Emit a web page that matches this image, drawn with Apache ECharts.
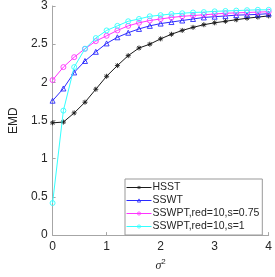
<!DOCTYPE html>
<html><head><meta charset="utf-8">
<script src="https://cdn.jsdelivr.net/npm/echarts@6/dist/echarts.min.js"></script>
<style>html,body{margin:0;padding:0;background:#fff}#c{width:275px;height:277px}</style>
</head><body><div id="c"></div>
<script>
const xValues = [0,0.2,0.4,0.6,0.8,1.0,1.2,1.4,1.6,1.8,2.0,2.2,2.4,2.6,2.8,3.0,3.2,3.4,3.6,3.8,4.0];
const seriesNames = ['HSST','SSWT','SSWPT,red=10,s=0.75','SSWPT,red=10,s=1'];
const hsst  = [1.47,1.48,1.60,1.74,1.91,2.08,2.22,2.35,2.45,2.50,2.57,2.63,2.68,2.72,2.755,2.78,2.80,2.82,2.84,2.855,2.87];
const sswt  = [1.76,1.92,2.13,2.28,2.40,2.51,2.59,2.65,2.70,2.74,2.77,2.79,2.81,2.83,2.85,2.86,2.87,2.88,2.885,2.89,2.90];
const sswpt075 = [2.03,2.20,2.33,2.44,2.54,2.61,2.68,2.74,2.78,2.81,2.83,2.85,2.865,2.875,2.885,2.895,2.905,2.91,2.915,2.92,2.925];
const sswpt1 = [0.42,1.63,2.20,2.44,2.58,2.68,2.74,2.80,2.83,2.865,2.88,2.895,2.905,2.915,2.92,2.93,2.935,2.94,2.945,2.95,2.95];
const yTicks = [0,0.5,1,1.5,2,2.5,3];
const xTicks = [0,1,2,3,4];

const colors = ['#1a1a1a','#2a2aff','#ff33ff','#33ffff'];
const star = 'path://M0,-5L0,5M-5,0L5,0M-3.6,-3.6L3.6,3.6M-3.6,3.6L3.6,-3.6';
const symbols = [star,'triangle','circle','circle'];
const sizes = [5,5,5,5];
const datas = [hsst, sswt, sswpt075, sswpt1];

const chart = echarts.init(document.getElementById('c'));
chart.setOption({
  animation:false,
  grid:{left:37,right:3,top:6,bottom:36},
  textStyle:{fontFamily:'Liberation Sans, Arial, sans-serif'},
  xAxis:{type:'value',min:0,max:4,interval:1,
    axisLine:{lineStyle:{color:'#a6a6a6',width:1}},
    axisTick:{inside:true,length:3,lineStyle:{color:'#a6a6a6'}},
    axisLabel:{color:'#262626',fontSize:12,margin:6,formatter:v=>String(v)},
    splitLine:{show:false},
    name:'{s|σ}{sup|2}',nameLocation:'middle',nameGap:20,
    nameTextStyle:{rich:{s:{fontSize:12,fontStyle:'italic',color:'#262626',fontFamily:'Liberation Serif, serif'},sup:{fontSize:8,color:'#262626',verticalAlign:'top',padding:[0,0,8,0]}}}
  },
  yAxis:{type:'value',min:0,max:3,interval:0.5,
    axisLine:{show:true,lineStyle:{color:'#a6a6a6',width:1}},
    axisTick:{show:true,inside:true,length:3,lineStyle:{color:'#a6a6a6'}},
    axisLabel:{color:'#262626',fontSize:12,margin:5,formatter:v=>String(v)},
    splitLine:{show:false},
    name:'EMD',nameLocation:'middle',nameGap:26,nameRotate:90,
    nameTextStyle:{color:'#262626',fontSize:12}
  },
  legend:{
    orient:'vertical',left:125,top:179,
    width:138,
    backgroundColor:'#fff',borderColor:'#999',borderWidth:1,
    padding:[3,3,3,1],itemGap:2,itemWidth:25,itemHeight:4,
    lineStyle:{width:1},
    itemStyle:{borderWidth:0.8},
    textStyle:{fontSize:10.5,color:'#262626',padding:[0,0,0,-4]},
    data:seriesNames
  },
  series: datas.map((d,i)=>({
    name:seriesNames[i],type:'line',
    data:xValues.map((x,j)=>[x,d[j]]),
    symbol:symbols[i],symbolSize:sizes[i],showSymbol:true,
    lineStyle:{color:colors[i],width:1},
    itemStyle:{color:'rgba(255,255,255,0)',borderColor:colors[i],borderWidth:0.9},
    emphasis:{disabled:true},
    z:2+i
  }))
});
</script></body></html>
